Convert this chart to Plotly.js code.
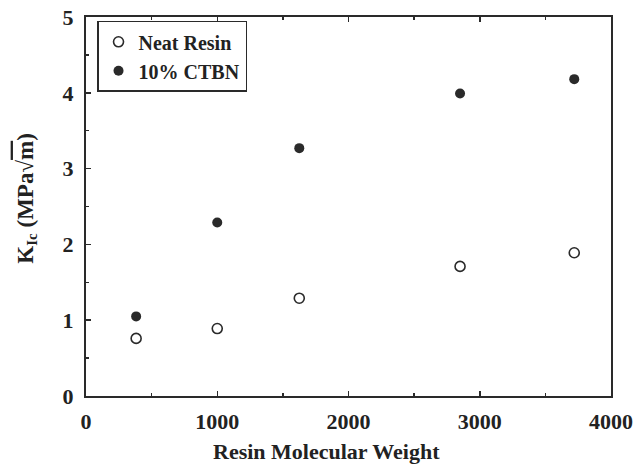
<!DOCTYPE html>
<html>
<head>
<meta charset="utf-8">
<script src="https://cdn.plot.ly/plotly-3.0.1.min.js"></script>
<style>html,body{margin:0;padding:0;background:#fff;}</style>
</head>
<body>
<div id="chart" style="width:633px;height:466px;"></div>
<script>
const molWeight = [382, 1000, 1625, 2850, 3720];
const neatResin = [0.76, 0.89, 1.29, 1.71, 1.89];
const ctbn10 = [1.05, 2.29, 3.27, 3.99, 4.18];
const seriesNames = ['Neat Resin', '10% CTBN'];
const xTitle = 'Resin Molecular Weight';
const yTitle = 'K<sub><span style="font-size:15px">Ic</span></sub> (MPa√<span style="text-decoration:overline">m</span>)';

const font = 'Liberation Serif, Times New Roman, serif';
const ink = '#2a2a2a';

const traces = [
  {x: molWeight, y: neatResin, name: seriesNames[0], type: 'scatter', mode: 'markers',
   marker: {symbol: 'circle-open', size: 10, color: ink, line: {width: 1.6, color: ink}}},
  {x: molWeight, y: ctbn10, name: seriesNames[1], type: 'scatter', mode: 'markers',
   marker: {symbol: 'circle', size: 10, color: ink}}
];

const axisCommon = {
  showgrid: false, zeroline: false, showline: true, linecolor: ink, linewidth: 2,
  ticks: 'inside', ticklen: 5, tickwidth: 1.5, tickcolor: ink,
  tickfont: {family: font, size: 22, color: '#222', weight: 'bold'}
};

const layout = {
  width: 633, height: 466,
  margin: {l: 86, r: 22, t: 17, b: 70},
  paper_bgcolor: '#fff', plot_bgcolor: '#fff',
  font: {family: font, color: '#222'},
  showlegend: true,
  legend: {x: 0.021, y: 0.99, xanchor: 'left', yanchor: 'top',
    bordercolor: ink, borderwidth: 1.5, bgcolor: '#fff',
    font: {family: font, size: 20, color: '#222', weight: 'bold'},
    tracegroupgap: 0, itemwidth: 30},
  xaxis: Object.assign({}, axisCommon, {
    range: [0, 4000], dtick: 1000, tick0: 0, mirror: 'ticks',
    ticklabelstandoff: 5,
    minor: {ticks: 'inside', dtick: 500, ticklen: 3, tickcolor: ink, tickwidth: 1.5}
  }),
  yaxis: Object.assign({}, axisCommon, {
    range: [0, 5], dtick: 1, tick0: 0, mirror: true,
    ticklabelstandoff: 6,
    minor: {ticks: 'inside', dtick: 0.5, ticklen: 3, tickcolor: ink, tickwidth: 1.5}
  }),
  annotations: [
    {text: xTitle, xref: 'paper', yref: 'paper', x: 0.459, y: 0, yshift: -55,
     xanchor: 'center', yanchor: 'middle', showarrow: false,
     font: {family: font, size: 22, color: '#222', weight: 'bold'}},
    {text: yTitle, xref: 'paper', yref: 'paper', x: -0.114, y: 0.5, yshift: 8,
     xanchor: 'center', yanchor: 'middle', showarrow: false, textangle: -90,
     font: {family: font, size: 23, color: '#222', weight: 'bold'}}
  ]
};

Plotly.newPlot('chart', traces, layout, {displayModeBar: false, staticPlot: true});
</script>
</body>
</html>
